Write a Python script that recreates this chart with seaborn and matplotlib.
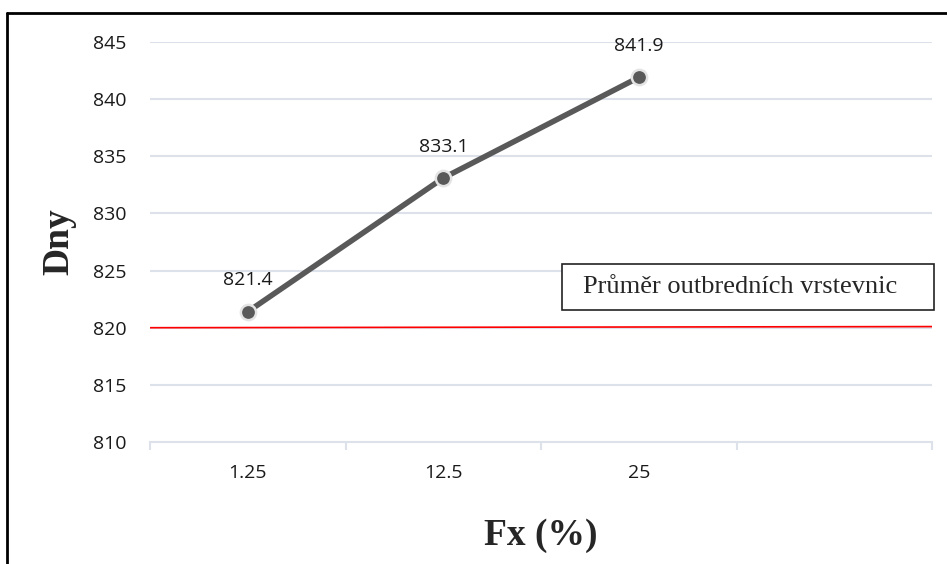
import numpy as np
import matplotlib
matplotlib.use("Agg")
from matplotlib import pyplot as plt
from matplotlib.lines import Line2D
from matplotlib.patches import Rectangle
import seaborn as sns

# data
categories = ["1.25", "12.5", "25", ""]
days = [821.4, 833.1, 841.9]
outbred_avg = [820.0, 820.1]   # red reference line, left end / right end
yticks = [810, 815, 820, 825, 830, 835, 840, 845]

sns.set_style("white")
plt.rcParams['font.family'] = ['Open Sans', 'DejaVu Sans']

fig = plt.figure(figsize=(9.47, 5.64), dpi=100)
ax = fig.add_axes([150 / 947, 122 / 564, 782 / 947, 400 / 564])

grid_col = "#dce1ea"
x = np.arange(len(days))

# outbred average line
ax.plot([-0.5, len(categories) - 0.5], outbred_avg, color="red", lw=1.2, zorder=2)

sns.lineplot(x=x, y=days, ax=ax, color="#595959", lw=4, marker="o",
             markersize=11, markerfacecolor="#595959", markeredgecolor="#e4e4e4",
             markeredgewidth=1.8, zorder=3)

for xi, v in zip(x, days):
    ax.annotate(f"{v:.1f}", (xi, v), xytext=(0, 16), textcoords="offset points",
                ha="center", va="bottom", fontsize=14, color="#1a1a1a")

ax.set_xlim(-0.5, len(categories) - 0.5)
ax.set_ylim(min(yticks), max(yticks))
ax.set_yticks(yticks)
ax.set_yticklabels([str(t) for t in yticks], fontsize=14)
ax.set_xticks(np.arange(len(categories)))
ax.set_xticklabels(categories, fontsize=14)
ax.set_xticks(np.arange(len(categories) + 1) - 0.5, minor=True)
ax.tick_params(axis="x", which="major", bottom=True, length=0, pad=16, colors="#1a1a1a")
ax.tick_params(axis="x", which="minor", bottom=True, length=6, width=1.5,
               color=grid_col, direction="out")
ax.tick_params(axis="y", length=0, pad=17, colors="#1a1a1a")

for t in yticks[1:]:
    ax.axhline(t, color=grid_col, lw=1.5, zorder=1)

for s in ["left", "right", "top"]:
    ax.spines[s].set_visible(False)
ax.spines["bottom"].set_color(grid_col)
ax.spines["bottom"].set_linewidth(1.5)

ax.set_ylabel("Dny", family="Liberation Serif", fontweight="bold", fontsize=27, labelpad=12)
ax.set_xlabel("Fx (%)", family="Liberation Serif", fontweight="bold", fontsize=27, labelpad=26)

# text box for the outbred average
ax.add_patch(Rectangle((412 / 782, 132 / 400), 372 / 782, 46 / 400, transform=ax.transAxes,
                       fc="white", ec="#222222", lw=1.2, clip_on=False, zorder=4))
ax.text(433 / 782, 155 / 400, "Průměr outbredních vrstevnic",
        transform=ax.transAxes, family="Liberation Serif", fontsize=19,
        ha="left", va="center", zorder=5)

# outer frame (left and top edges only, as in the reference)
fig.add_artist(Line2D([7 / 947, 7 / 947], [0, 1 - 13 / 564], color="black", lw=2))
fig.add_artist(Line2D([7 / 947, 1], [1 - 13 / 564, 1 - 13 / 564], color="black", lw=2))

fig.savefig("out.png", dpi=100)
